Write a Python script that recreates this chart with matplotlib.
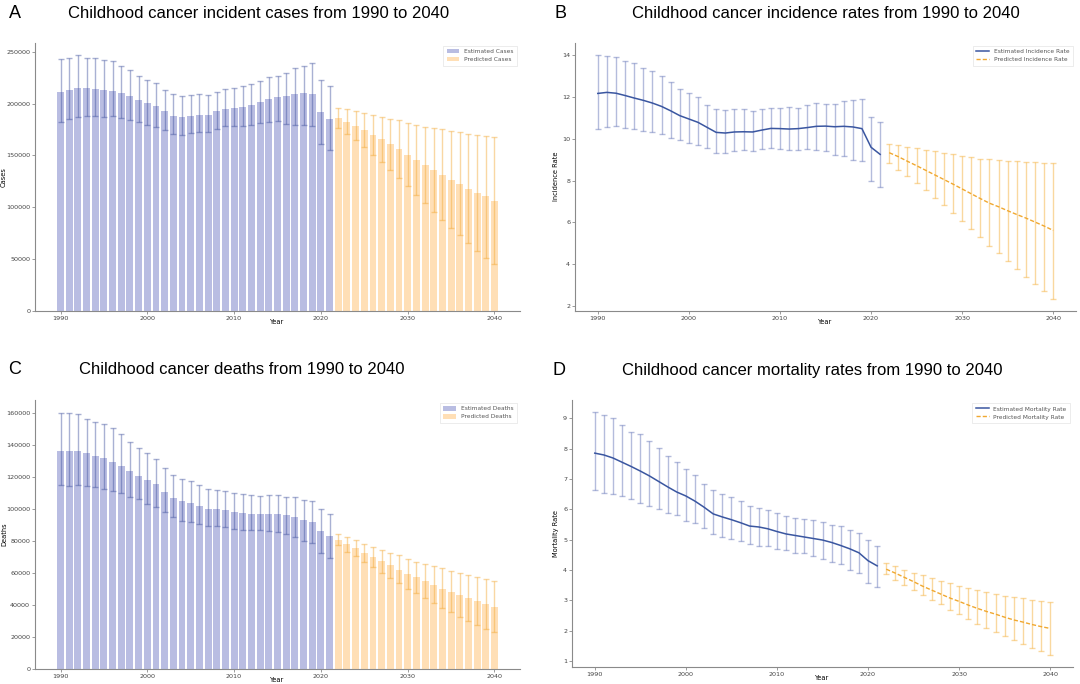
import matplotlib
matplotlib.use("Agg")
import matplotlib.pyplot as plt
import numpy as np

# ---------------- data ----------------
years_est = list(range(1990, 2022))
years_pred = list(range(2022, 2041))

cases_est = [211200, 213500, 215000, 215000, 214400, 213500, 212200, 210600, 207000, 203500,
             201000, 197400, 193000, 188500, 187200, 188500, 189100, 189400, 192600, 194900,
             195800, 197200, 199000, 201300, 204500, 206500, 207400, 209700, 210300, 209700,
             192300, 185600]
cases_est_hi = [243000, 244500, 246500, 244500, 244000, 241700, 240700, 236800, 232400, 227000,
                223000, 219500, 212800, 209300, 207000, 208300, 209000, 208000, 210900, 213800,
                214700, 216700, 218900, 221500, 225300, 226300, 229200, 234000, 235900, 238800,
                222400, 216700]
cases_est_lo = [182000, 185300, 187500, 187800, 188000, 186800, 187800, 186500, 184000, 182000,
                179500, 177000, 174300, 170800, 169500, 171500, 173000, 173000, 175300, 177900,
                178200, 178200, 179200, 181100, 182700, 183000, 180400, 179200, 179200, 177900,
                160900, 155400]
cases_pred = [186200, 182700, 178500, 174300, 169900, 165700, 160900, 156100, 150600, 145500,
              140400, 135900, 131100, 126600, 122100, 117900, 113800, 110300, 106400]
cases_pred_hi = [195500, 194500, 192900, 191000, 189100, 187500, 185600, 184000, 181400, 179200,
                 177200, 176000, 175000, 173700, 172400, 171100, 169900, 168900, 167900]
cases_pred_lo = [176900, 170500, 164700, 157700, 150600, 143600, 135900, 128200, 120500, 112200,
                 103800, 95500, 87800, 80100, 72800, 65400, 58000, 51300, 44900]

inc_est = [12.16, 12.21, 12.17, 12.06, 11.94, 11.83, 11.70, 11.54, 11.33, 11.10,
           10.94, 10.78, 10.54, 10.30, 10.27, 10.32, 10.33, 10.32, 10.41, 10.49,
           10.48, 10.46, 10.48, 10.53, 10.59, 10.60, 10.57, 10.59, 10.56, 10.48,
           9.59, 9.25]
inc_est_hi = [14.00, 13.97, 13.90, 13.70, 13.59, 13.37, 13.24, 12.97, 12.71, 12.37,
              12.16, 11.97, 11.63, 11.44, 11.35, 11.40, 11.40, 11.30, 11.40, 11.46,
              11.46, 11.49, 11.48, 11.59, 11.68, 11.65, 11.65, 11.78, 11.83, 11.89,
              11.05, 10.79]
inc_est_lo = [10.46, 10.56, 10.60, 10.51, 10.46, 10.38, 10.32, 10.22, 10.05, 9.94,
              9.79, 9.70, 9.56, 9.33, 9.30, 9.40, 9.46, 9.43, 9.51, 9.57,
              9.52, 9.48, 9.48, 9.50, 9.47, 9.41, 9.20, 9.19, 9.00, 8.92,
              8.00, 7.71]
inc_pred = [9.33, 9.14, 8.92, 8.71, 8.49, 8.27, 8.05, 7.83, 7.60, 7.37,
            7.14, 6.92, 6.75, 6.56, 6.38, 6.21, 6.02, 5.83, 5.62]
inc_pred_hi = [9.75, 9.68, 9.62, 9.54, 9.46, 9.40, 9.32, 9.25, 9.17, 9.11,
               9.05, 9.02, 8.98, 8.94, 8.92, 8.89, 8.89, 8.86, 8.84]
inc_pred_lo = [8.86, 8.52, 8.21, 7.87, 7.54, 7.19, 6.84, 6.46, 6.08, 5.68,
               5.30, 4.90, 4.52, 4.14, 3.76, 3.40, 3.05, 2.71, 2.37]

deaths_est = [136200, 136600, 136400, 135200, 133500, 131800, 129500, 127000, 124100, 121000,
              118400, 115500, 110900, 107200, 105100, 103600, 101700, 100100, 99900, 99200,
              98200, 97800, 97100, 97100, 96900, 96800, 96300, 95000, 93200, 91700,
              86300, 83100]
deaths_est_hi = [160400, 160400, 159800, 156700, 154400, 153100, 150600, 147100, 142300, 138500,
                 135200, 131200, 125500, 121200, 119100, 117400, 114900, 112800, 112200, 111600,
                 109900, 109300, 109000, 108400, 108600, 108600, 107800, 107800, 105900, 104900,
                 100100, 96900]
deaths_est_lo = [114900, 114700, 115300, 114700, 114100, 112400, 111600, 109900, 107400, 106100,
                 103000, 101500, 98400, 95300, 92800, 91700, 90900, 89200, 89200, 89000,
                 87700, 87100, 86700, 86700, 86300, 85600, 84200, 82700, 80000, 78500,
                 72300, 69100]
deaths_pred = [80600, 78100, 75400, 72500, 70000, 67300, 64800, 62000, 59500, 57200,
               54700, 52400, 50100, 48000, 46000, 44100, 42400, 40500, 38900]
deaths_pred_hi = [84400, 82700, 80600, 78300, 76500, 74600, 72700, 71000, 68900, 67100,
                  65400, 64100, 62900, 61200, 60000, 58700, 57700, 56400, 55200]
deaths_pred_lo = [77300, 73300, 70400, 66600, 63500, 60000, 56600, 53500, 50100, 47200,
                  44100, 40900, 37800, 35300, 32600, 29900, 27400, 25100, 22800]

mort_est = [7.85, 7.79, 7.69, 7.55, 7.41, 7.26, 7.10, 6.92, 6.74, 6.57,
            6.44, 6.27, 6.07, 5.85, 5.75, 5.66, 5.56, 5.45, 5.42, 5.36,
            5.27, 5.19, 5.14, 5.09, 5.04, 4.99, 4.91, 4.81, 4.70, 4.57,
            4.31, 4.14]
mort_est_hi = [9.20, 9.12, 9.00, 8.76, 8.56, 8.47, 8.26, 8.03, 7.77, 7.55,
               7.34, 7.14, 6.85, 6.64, 6.49, 6.42, 6.29, 6.12, 6.05, 5.98,
               5.87, 5.79, 5.73, 5.69, 5.65, 5.57, 5.47, 5.44, 5.31, 5.22,
               4.98, 4.81]
mort_est_lo = [6.63, 6.55, 6.51, 6.44, 6.33, 6.22, 6.12, 6.02, 5.87, 5.80,
               5.63, 5.54, 5.37, 5.20, 5.09, 5.01, 4.96, 4.86, 4.81, 4.78,
               4.69, 4.65, 4.56, 4.55, 4.46, 4.38, 4.27, 4.19, 4.00, 3.92,
               3.59, 3.44]
mort_pred = [4.03, 3.90, 3.76, 3.62, 3.47, 3.34, 3.21, 3.08, 2.97, 2.85,
             2.74, 2.64, 2.55, 2.45, 2.36, 2.29, 2.21, 2.14, 2.08]
mort_pred_hi = [4.22, 4.13, 4.02, 3.92, 3.84, 3.73, 3.65, 3.57, 3.48, 3.42,
                3.35, 3.29, 3.23, 3.16, 3.11, 3.07, 3.01, 2.98, 2.95]
mort_pred_lo = [3.86, 3.68, 3.51, 3.33, 3.18, 3.00, 2.87, 2.69, 2.54, 2.40,
                2.24, 2.10, 1.97, 1.84, 1.71, 1.58, 1.45, 1.33, 1.22]

titles = ["Childhood cancer incident cases from 1990 to 2040",
          "Childhood cancer incidence rates from 1990 to 2040",
          "Childhood cancer deaths from 1990 to 2040",
          "Childhood cancer mortality rates from 1990 to 2040"]
letters = ["A", "B", "C", "D"]

# ---------------- style ----------------
plt.rcParams['font.family'] = ['DejaVu Sans']
BLUE_BAR = '#b9bde2'
BLUE_ERR = (0.25, 0.32, 0.62, 0.45)
ORANGE_BAR = '#ffdfb6'
ORANGE_ERR = (0.95, 0.66, 0.20, 0.45)
BLUE_LINE = '#3a56a0'
ORANGE_LINE = '#f0a830'
BLUE_ERR_L = (0.35, 0.42, 0.70, 0.45)
ORANGE_ERR_L = (0.96, 0.70, 0.25, 0.5)

fig = plt.figure(figsize=(10.8, 6.84), dpi=100)

positions = {
    "A": [35/1080, 1-310.7/684, (520-35)/1080, (310.7-42.7)/684],
    "B": [575/1080, 1-310.7/684, (1076-575)/1080, (310.7-42.7)/684],
    "C": [35/1080, 1-668.7/684, (520-35)/1080, (668.7-400)/684],
    "D": [572/1080, 1-666.7/684, (1073-572)/1080, (666.7-400)/684],
}
axes = {k: fig.add_axes(v) for k, v in positions.items()}
# y-label x position (pixels left of axes) for each panel
ylab_off = {"A": 28, "B": 16, "C": 28, "D": 13}


def style(ax, key):
    for s in ['top', 'right']:
        ax.spines[s].set_visible(False)
    for s in ['left', 'bottom']:
        ax.spines[s].set_color('#8a8a8a')
        ax.spines[s].set_linewidth(0.8)
    ax.tick_params(labelsize=4.6, colors='#8a8a8a', labelcolor='#444444',
                   length=2, width=0.6, pad=1.5)
    ax.set_xticks([1990, 2000, 2010, 2020, 2030, 2040])
    w_px = positions[key][2] * 1080
    h_px = positions[key][3] * 684
    ax.yaxis.set_label_coords(-ylab_off[key] / w_px, 0.5)
    ax.xaxis.set_label_coords(0.5, -8.5 / h_px)


def legend(ax):
    leg = ax.legend(loc='upper right', fontsize=4.2, frameon=True, fancybox=False,
                    handlelength=2.2, borderpad=0.6)
    leg.get_frame().set_edgecolor('#dddddd')
    leg.get_frame().set_linewidth(0.5)
    for t in leg.get_texts():
        t.set_color('#555555')


def bar_panel(key, est, est_hi, est_lo, pred, pred_hi, pred_lo, ylab, lab_e, lab_p):
    ax = axes[key]
    ye = np.array(est); yp = np.array(pred)
    err_e = [ye - np.array(est_lo), np.array(est_hi) - ye]
    err_p = [yp - np.array(pred_lo), np.array(pred_hi) - yp]
    ax.bar(years_est, est, width=0.8, color=BLUE_BAR, label=lab_e)
    ax.bar(years_pred, pred, width=0.8, color=ORANGE_BAR, label=lab_p)
    ax.errorbar(years_est, est, yerr=err_e, fmt='none', ecolor=BLUE_ERR,
                elinewidth=1.0, capsize=2.2, capthick=1.0)
    ax.errorbar(years_pred, pred, yerr=err_p, fmt='none', ecolor=ORANGE_ERR,
                elinewidth=1.0, capsize=2.2, capthick=1.0)
    ax.set_ylabel(ylab, fontsize=4.8)
    ax.set_xlabel("Year", fontsize=4.8)
    style(ax, key)
    legend(ax)


def line_panel(key, est, est_hi, est_lo, pred, pred_hi, pred_lo, ylab, lab_e, lab_p):
    ax = axes[key]
    ye = np.array(est); yp = np.array(pred)
    err_e = [ye - np.array(est_lo), np.array(est_hi) - ye]
    err_p = [yp - np.array(pred_lo), np.array(pred_hi) - yp]
    ax.errorbar(years_est, est, yerr=err_e, fmt='none', ecolor=BLUE_ERR_L,
                elinewidth=1.0, capsize=2.2, capthick=1.0)
    ax.errorbar(years_pred, pred, yerr=err_p, fmt='none', ecolor=ORANGE_ERR_L,
                elinewidth=1.0, capsize=2.2, capthick=1.0)
    ax.plot(years_est, est, color=BLUE_LINE, lw=1.1, label=lab_e)
    ax.plot(years_pred, pred, color=ORANGE_LINE, lw=1.0, ls='--', dashes=(3, 1.5), label=lab_p)
    ax.set_ylabel(ylab, fontsize=4.8)
    ax.set_xlabel("Year", fontsize=4.8)
    style(ax, key)
    legend(ax)


bar_panel("A", cases_est, cases_est_hi, cases_est_lo, cases_pred, cases_pred_hi,
          cases_pred_lo, "Cases", "Estimated Cases", "Predicted Cases")
line_panel("B", inc_est, inc_est_hi, inc_est_lo, inc_pred, inc_pred_hi, inc_pred_lo,
           "Incidence Rate", "Estimated Incidence Rate", "Predicted Incidence Rate")
bar_panel("C", deaths_est, deaths_est_hi, deaths_est_lo, deaths_pred, deaths_pred_hi,
          deaths_pred_lo, "Deaths", "Estimated Deaths", "Predicted Deaths")
line_panel("D", mort_est, mort_est_hi, mort_est_lo, mort_pred, mort_pred_hi, mort_pred_lo,
           "Mortality Rate", "Estimated Mortality Rate", "Predicted Mortality Rate")
axes["D"].set_yticks([1, 2, 3, 4, 5, 6, 7, 8, 9])

# titles and panel letters
title_pos = [(68, 14), (632, 14), (79, 369), (622, 370)]
letter_pos = [(9, 14), (555, 14), (8, 369), (553, 370)]
for t, l, (tx, ty), (lx, ly) in zip(titles, letters, title_pos, letter_pos):
    fig.text(tx/1080, 1-ty/684, t, fontsize=12, family='Liberation Sans',
             ha='left', va='center', color='black')
    fig.text(lx/1080, 1-ly/684, l, fontsize=13, family='Liberation Sans',
             ha='left', va='center', color='black')

fig.savefig("out.png", dpi=100)
